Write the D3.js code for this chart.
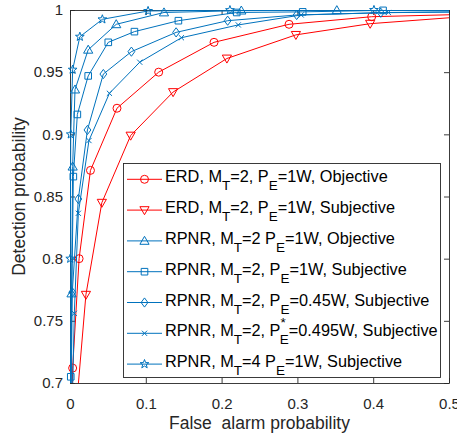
<!doctype html>
<html>
<head>
<meta charset="utf-8">
<script src="https://d3js.org/d3.v7.min.js"></script>
<style>
  body { margin: 0; background: #fff; }
  text { font-family: "Liberation Sans", Arial, sans-serif; }
</style>
</head>
<body>
<script>
// tick values
var xTicks = [0, 0.1, 0.2, 0.3, 0.4, 0.5];
var yTicks = [0.7, 0.75, 0.8, 0.85, 0.9, 0.95, 1];

// ERD, MT=2, PE=1W, Objective
var erdObjFa = [0, 0.0035, 0.012, 0.027, 0.062, 0.117, 0.190, 0.289, 0.398, 0.51];
var erdObjPd = [0.6, 0.712, 0.800, 0.871, 0.921, 0.950, 0.974, 0.9885, 0.9946, 0.9963];
// ERD, MT=2, PE=1W, Subjective
var erdSubFa = [0, 0.021, 0.042, 0.080, 0.136, 0.207, 0.298, 0.396, 0.51];
var erdSubPd = [0.62, 0.771, 0.845, 0.899, 0.934, 0.961, 0.980, 0.989, 0.9942];
// RPNR, MT=2 PE=1W, Objective
var rpObjFa = [0, 0.002, 0.0035, 0.0066, 0.024, 0.061, 0.124, 0.226, 0.352, 0.51];
var rpObjPd = [0.6, 0.772, 0.874, 0.936, 0.968, 0.9885, 0.998, 0.9995, 0.9998, 1.0];
// RPNR, MT=2, PE=1W, Subjective
var rpSubFa = [0, 0.001, 0.0044, 0.0097, 0.024, 0.0505, 0.085, 0.143, 0.22, 0.307, 0.413, 0.52];
var rpSubPd = [0.6, 0.705, 0.866, 0.916, 0.947, 0.974, 0.9826, 0.9914, 0.998, 0.9985, 0.9997, 0.9998];
// RPNR, MT=2, PE=0.45W, Subjective
var rp045Fa = [0, 0.003, 0.011, 0.023, 0.044, 0.081, 0.14, 0.208, 0.299, 0.41, 0.52];
var rp045Pd = [0.6, 0.773, 0.848, 0.9035, 0.9485, 0.9665, 0.982, 0.9914, 0.996, 0.9978, 0.9985];
// RPNR, MT=2, PE*=0.495W, Subjective
var rp0495Fa = [0, 0.0057, 0.011, 0.025, 0.052, 0.092, 0.147, 0.222, 0.305, 0.42, 0.52];
var rp0495Pd = [0.6, 0.756, 0.8365, 0.895, 0.933, 0.958, 0.9777, 0.988, 0.996, 0.998, 0.9985];
// RPNR, MT=4 PE=1W, Subjective
var rpM4Fa = [0, 0.0003, 0.001, 0.0035, 0.013, 0.0427, 0.103, 0.211, 0.401, 0.52];
var rpM4Pd = [0.6, 0.80, 0.90, 0.952, 0.9785, 0.9925, 0.9992, 0.9999, 1.0, 1.0];

// legend labels: [text, kind]  kind: n normal, sub, sup
var legendLabels = [
  [["ERD, M", "n"], ["T", "sub"], ["=2, P", "n"], ["E", "sub"], ["=1W, Objective", "n"]],
  [["ERD, M", "n"], ["T", "sub"], ["=2, P", "n"], ["E", "sub"], ["=1W, Subjective", "n"]],
  [["RPNR, M", "n"], ["T", "sub"], ["=2 P", "n"], ["E", "sub"], ["=1W, Objective", "n"]],
  [["RPNR, M", "n"], ["T", "sub"], ["=2, P", "n"], ["E", "sub"], ["=1W, Subjective", "n"]],
  [["RPNR, M", "n"], ["T", "sub"], ["=2, P", "n"], ["E", "sub"], ["=0.45W, Subjective", "n"]],
  [["RPNR, M", "n"], ["T", "sub"], ["=2, P", "n"], ["*", "sup"], ["E", "sub"], ["=0.495W, Subjective", "n"]],
  [["RPNR, M", "n"], ["T", "sub"], ["=4 P", "n"], ["E", "sub"], ["=1W, Subjective", "n"]]
];

var red = "#ff0000", blue = "#0072bd";
var series = [
  {fa: erdObjFa, pd: erdObjPd, color: red, marker: "circle"},
  {fa: erdSubFa, pd: erdSubPd, color: red, marker: "tdown"},
  {fa: rpObjFa, pd: rpObjPd, color: blue, marker: "tup"},
  {fa: rpSubFa, pd: rpSubPd, color: blue, marker: "square"},
  {fa: rp045Fa, pd: rp045Pd, color: blue, marker: "diamond"},
  {fa: rp0495Fa, pd: rp0495Pd, color: blue, marker: "x"},
  {fa: rpM4Fa, pd: rpM4Pd, color: blue, marker: "star"}
];

function markerPath(type) {
  if (type == "circle") return "M4,0A4,4 0 1,1 -4,0A4,4 0 1,1 4,0Z";
  if (type == "tdown") return "M0,4.6L-4.6,-3.4L4.6,-3.4Z";
  if (type == "tup") return "M0,-4.6L-4.6,3.4L4.6,3.4Z";
  if (type == "square") return "M-3.3,-3.3H3.3V3.3H-3.3Z";
  if (type == "diamond") return "M0,-4.6L3.4,0L0,4.6L-3.4,0Z";
  if (type == "x") return "M-2.6,-2.6L2.6,2.6M-2.6,2.6L2.6,-2.6";
  if (type == "star") {
    var p = [];
    for (var i = 0; i < 10; i++) {
      var r = i % 2 == 0 ? 4.6 : 1.9;
      var a = -Math.PI / 2 + i * Math.PI / 5;
      p.push([r * Math.cos(a), r * Math.sin(a)]);
    }
    return "M" + p.join("L") + "Z";
  }
}

var width = 457, height = 438;
var margin = {left: 70, right: 8, top: 10, bottom: 55};

var svg = d3.select("body").append("svg")
  .attr("width", width)
  .attr("height", height);

var x = d3.scaleLinear().domain([0, 0.5]).range([margin.left, width - margin.right]);
var y = d3.scaleLinear().domain([0.7, 1]).range([height - margin.bottom, margin.top]);

svg.append("clipPath").attr("id", "clip")
  .append("rect")
  .attr("x", x(0)).attr("y", y(1))
  .attr("width", x(0.5) - x(0)).attr("height", y(0.7) - y(1));

// axes
var axisColor = "#262626";
var gx = svg.append("g").attr("transform", "translate(0," + y(0.7) + ")")
  .call(d3.axisBottom(x).tickValues(xTicks).tickSize(-5).tickSizeOuter(0).tickPadding(15)
    .tickFormat(function(d) { return String(d); }));
var gxt = svg.append("g").attr("transform", "translate(0," + y(1) + ")")
  .call(d3.axisTop(x).tickValues(xTicks).tickSize(-5).tickSizeOuter(0).tickFormat(""));
var gy = svg.append("g").attr("transform", "translate(" + x(0) + ",0)")
  .call(d3.axisLeft(y).tickValues(yTicks).tickSize(-5).tickSizeOuter(0).tickPadding(7)
    .tickFormat(function(d) { return String(d); }));
var gyr = svg.append("g").attr("transform", "translate(" + x(0.5) + ",0)")
  .call(d3.axisRight(y).tickValues(yTicks).tickSize(-5).tickSizeOuter(0).tickFormat(""));

[gx, gxt, gy, gyr].forEach(function(g) {
  g.selectAll("path, line").attr("stroke", axisColor).attr("stroke-width", 0.9);
  g.selectAll("text").attr("fill", axisColor).style("font-size", "15px")
    .style("font-family", "'Liberation Sans', Arial, sans-serif");
});

svg.append("text")
  .attr("x", (x(0) + x(0.5)) / 2)
  .attr("y", 429)
  .attr("text-anchor", "middle")
  .attr("fill", axisColor)
  .style("font-size", "17.5px")
  .style("white-space", "pre")
  .text("False  alarm probability");

svg.append("text")
  .attr("transform", "translate(25," + ((y(0.7) + y(1)) / 2) + ") rotate(-90)")
  .attr("text-anchor", "middle")
  .attr("fill", axisColor)
  .style("font-size", "17.5px")
  .text("Detection probability");

// curves
var line = d3.line()
  .x(function(d) { return x(d[0]); })
  .y(function(d) { return y(d[1]); });

series.forEach(function(s) {
  var pts = s.fa.map(function(f, i) { return [f, s.pd[i]]; });
  svg.append("path")
    .attr("clip-path", "url(#clip)")
    .attr("d", line(pts))
    .attr("fill", "none")
    .attr("stroke", s.color)
    .attr("stroke-width", 1);
  svg.selectAll(null)
    .data(pts.filter(function(d) { return d[0] > 0 && d[0] <= 0.5 && d[1] >= 0.7 && d[1] <= 1; }))
    .enter().append("path")
    .attr("transform", function(d) { return "translate(" + x(d[0]) + "," + y(d[1]) + ")"; })
    .attr("d", markerPath(s.marker))
    .attr("fill", "none")
    .attr("stroke", s.color)
    .attr("stroke-width", 1);
});

// legend
var lg = svg.append("g");
lg.append("rect")
  .attr("x", 123.5).attr("y", 163.5)
  .attr("width", 317).attr("height", 214)
  .attr("fill", "#fff")
  .attr("stroke", axisColor)
  .attr("stroke-width", 0.9);

series.forEach(function(s, i) {
  var base = 182.3 + i * 30.8;
  var ly = base - 3;
  lg.append("line")
    .attr("x1", 127).attr("x2", 162)
    .attr("y1", ly).attr("y2", ly)
    .attr("stroke", s.color).attr("stroke-width", 1);
  lg.append("path")
    .attr("transform", "translate(144.5," + ly + ")")
    .attr("d", markerPath(s.marker))
    .attr("fill", "none")
    .attr("stroke", s.color).attr("stroke-width", 1);
  var t = lg.append("text")
    .attr("x", 165).attr("y", base)
    .attr("fill", "#000")
    .style("font-size", "16.3px");
  var shift = 0, prevSup = false;
  legendLabels[i].forEach(function(part) {
    var ts = t.append("tspan").text(part[0]);
    var target = part[1] == "sub" ? 8 : part[1] == "sup" ? -9 : 0;
    ts.attr("dy", target - shift);
    shift = target;
    if (part[1] == "n") ts.style("font-size", "16.3px");
    else ts.style("font-size", "13.5px");
    if (prevSup) ts.attr("dx", -6);
    prevSup = part[1] == "sup";
  });
});
</script>
</body>
</html>
